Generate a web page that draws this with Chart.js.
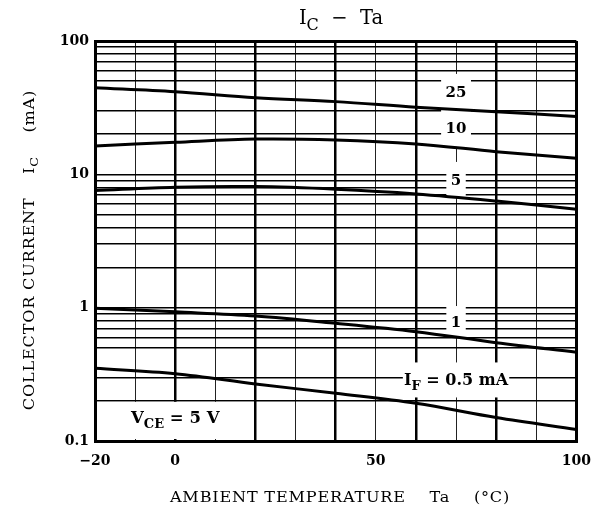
<!DOCTYPE html>
<html>
<head>
<meta charset="utf-8">
<script src="https://cdn.jsdelivr.net/npm/chart.js@4/dist/chart.umd.min.js"></script>
<style>
  html, body { margin: 0; padding: 0; background: #fff; }
  #wrap { width: 603px; height: 515px; }
</style>
</head>
<body>
<div id="wrap"><canvas id="c" width="603" height="515"></canvas></div>
<script>
// Ambient temperature (°C)
const temps = [-20, 0, 20, 40, 60, 80, 100];
// Collector current IC (mA) for each forward current IF
const icIF25 = [44.7, 41.7, 37.6, 35.1, 31.9, 29.5, 27.1];
const icIF10 = [16.3, 17.4, 18.4, 18.1, 16.9, 14.8, 13.2];
const icIF5  = [7.55, 8.0, 8.09, 7.73, 7.13, 6.31, 5.47];
const icIF1  = [0.99, 0.93, 0.866, 0.764, 0.661, 0.546, 0.463];
const icIF05 = [0.351, 0.320, 0.268, 0.228, 0.192, 0.150, 0.122];

// Axis ticks and grid
const xTickLabels = [-20, 0, 50, 100];
const xGridValues = [-20, -10, 0, 10, 20, 30, 40, 50, 60, 70, 80, 90, 100];
const yTickLabels = [0.1, 1, 10, 100];
const yGridValues = [0.1, 0.2, 0.3, 0.5, 0.6, 0.7, 0.8, 0.9,
                     1, 2, 3, 4, 5, 6, 7, 8, 9,
                     10, 20, 30, 50, 60, 70, 80, 90, 100];

// Curve labels (IF) placed at Ta = 70 °C
const curveLabelTa = 70;
const curveLabels = [
  { parts: [['25', false]], at: 41.5, h: 36 },
  { parts: [['10', false]], at: 22.3, h: 38 },
  { parts: [['5', false]],  at: 9.08, h: 36 },
  { parts: [['1', false]],  at: 0.794, h: 30 },
  { parts: [['I', false], ['F', true], [' = 0.5 mA', false]], at: 0.287, h: 35 }
];

const SERIF = '"DejaVu Serif", "Liberation Serif", serif';

function series(values) {
  return temps.map((t, i) => ({ x: t, y: values[i] }));
}

// Draw a run of text pieces, some of them as subscripts, centred on x.
// sx widens the lettering horizontally for the wide book-face axis titles.
function drawParts(ctx, parts, x, y, size, weight, spacing, sx) {
  sx = sx || 1;
  ctx.save();
  ctx.letterSpacing = (spacing || 0) + 'px';
  const mainFont = `${weight} ${size}px ${SERIF}`;
  const subFont = `${weight} ${Math.round(size * 0.8)}px ${SERIF}`;
  let total = 0;
  const widths = parts.map(([t, sub]) => {
    ctx.font = sub ? subFont : mainFont;
    const w = ctx.measureText(t).width;
    total += w;
    return w;
  });
  ctx.translate(x, y);
  ctx.scale(sx, 1);
  let cx = -total / 2;
  ctx.textBaseline = 'alphabetic';
  ctx.textAlign = 'left';
  parts.forEach(([t, sub], i) => {
    ctx.font = sub ? subFont : mainFont;
    ctx.fillText(t, cx, sub ? size * 0.3 : 0);
    cx += widths[i];
  });
  ctx.restore();
  return total * sx;
}

function partsWidth(ctx, parts, size, weight) {
  let total = 0;
  parts.forEach(([t, sub]) => {
    ctx.font = `${weight} ${sub ? Math.round(size * 0.8) : size}px ${SERIF}`;
    total += ctx.measureText(t).width;
  });
  return total;
}

const labelPlugin = {
  id: 'icLabels',
  beforeDatasetsDraw(chart) {
    const { ctx, chartArea: a, scales: { x, y } } = chart;
    ctx.save();
    ctx.fillStyle = '#fff';
    // clear panel for the VCE note
    ctx.fillRect(a.left + 2, y.getPixelForValue(0.2) + 1,
                 x.getPixelForValue(20) - 1.5 - (a.left + 2),
                 a.bottom - 2 - (y.getPixelForValue(0.2) + 1));
    // clear panels behind curve labels
    curveLabels.forEach(l => {
      const w = partsWidth(ctx, l.parts, 15, 'bold') + 9;
      const cx = x.getPixelForValue(curveLabelTa);
      const cy = y.getPixelForValue(l.at);
      ctx.fillStyle = '#fff';
      ctx.fillRect(cx - w / 2, cy - l.h / 2, w, l.h);
    });
    ctx.restore();
  },
  afterDatasetsDraw(chart) {
    const { ctx, scales: { x, y } } = chart;
    ctx.save();
    ctx.fillStyle = '#000';
    curveLabels.forEach(l => {
      const cx = x.getPixelForValue(curveLabelTa);
      const cy = y.getPixelForValue(l.at);
      const size = l.parts.length > 1 ? 16 : 15;
      drawParts(ctx, l.parts, cx, cy + 5.5, size, 'bold');
    });
    // VCE note
    drawParts(ctx, [['V', false], ['CE', true], [' = 5 V', false]],
              x.getPixelForValue(0), y.getPixelForValue(0.149) + 5.5, 16.5, 'bold');

    // Title
    drawParts(ctx, [['I', false], ['C', true], ['  \u2212  Ta', false]],
              341, 24, 19.5, 'normal');

    // X axis title
    drawParts(ctx, [['AMBIENT TEMPERATURE    Ta    (\u00B0C)', false]],
              340, 502, 14, 'normal', 0.7, 1.15);

    // Y axis title
    ctx.translate(29, 250);
    ctx.rotate(-Math.PI / 2);
    drawParts(ctx, [['COLLECTOR CURRENT    I', false], ['C', true], ['    (mA)', false]],
              0, 5, 14, 'normal', 0.7, 1.15);
    ctx.restore();
  }
};

const curveStyle = {
  borderColor: '#000',
  borderWidth: 3,
  pointRadius: 0,
  tension: 0.35,
  fill: false
};

new Chart(document.getElementById('c'), {
  type: 'line',
  data: {
    datasets: [
      { label: 'IF = 25 mA', data: series(icIF25), ...curveStyle },
      { label: 'IF = 10 mA', data: series(icIF10), ...curveStyle },
      { label: 'IF = 5 mA', data: series(icIF5), ...curveStyle },
      { label: 'IF = 1 mA', data: series(icIF1), ...curveStyle },
      { label: 'IF = 0.5 mA', data: series(icIF05), ...curveStyle }
    ]
  },
  options: {
    responsive: false,
    animation: false,
    layout: { padding: { left: 0, top: 41, right: 25, bottom: 0 } },
    plugins: { legend: { display: false }, tooltip: { enabled: false }, title: { display: false } },
    scales: {
      x: {
        type: 'linear',
        min: -20,
        max: 100,
        afterBuildTicks: s => { s.ticks = xGridValues.map(v => ({ value: v })); },
        afterFit: s => { s.height = 74; },
        ticks: {
          autoSkip: false,
          maxRotation: 0,
          padding: 12,
          color: '#000',
          font: { family: SERIF, size: 14, weight: 'bold' },
          callback: v => xTickLabels.includes(v) ? (v < 0 ? '\u2212' + Math.abs(v) : String(v)) : ''
        },
        grid: {
          drawTicks: false,
          tickLength: 0,
          color: ctx => (ctx.tick && ctx.tick.value % 20 === 0) ? '#000' : '#222',
          lineWidth: ctx => {
            const v = ctx.tick ? ctx.tick.value : 0;
            if (v === 100 || v === -20) return 3;
            return v % 20 === 0 ? 2.5 : 1;
          }
        },
        border: { display: true, color: '#000', width: 3 }
      },
      y: {
        type: 'logarithmic',
        min: 0.1,
        max: 100,
        afterBuildTicks: s => { s.ticks = yGridValues.map(v => ({ value: v })); },
        afterFit: s => { s.width = 95; },
        ticks: {
          autoSkip: false,
          padding: 6,
          color: '#000',
          font: { family: SERIF, size: 14, weight: 'bold' },
          callback: v => yTickLabels.includes(v) ? String(v) : ''
        },
        grid: {
          drawTicks: false,
          tickLength: 0,
          color: '#000',
          lineWidth: ctx => {
            const v = ctx.tick ? ctx.tick.value : 0;
            if (v === 100 || v === 0.1) return 3;
            return 1.4;
          }
        },
        border: { display: true, color: '#000', width: 3 }
      }
    }
  },
  plugins: [labelPlugin]
});
</script>
</body>
</html>
